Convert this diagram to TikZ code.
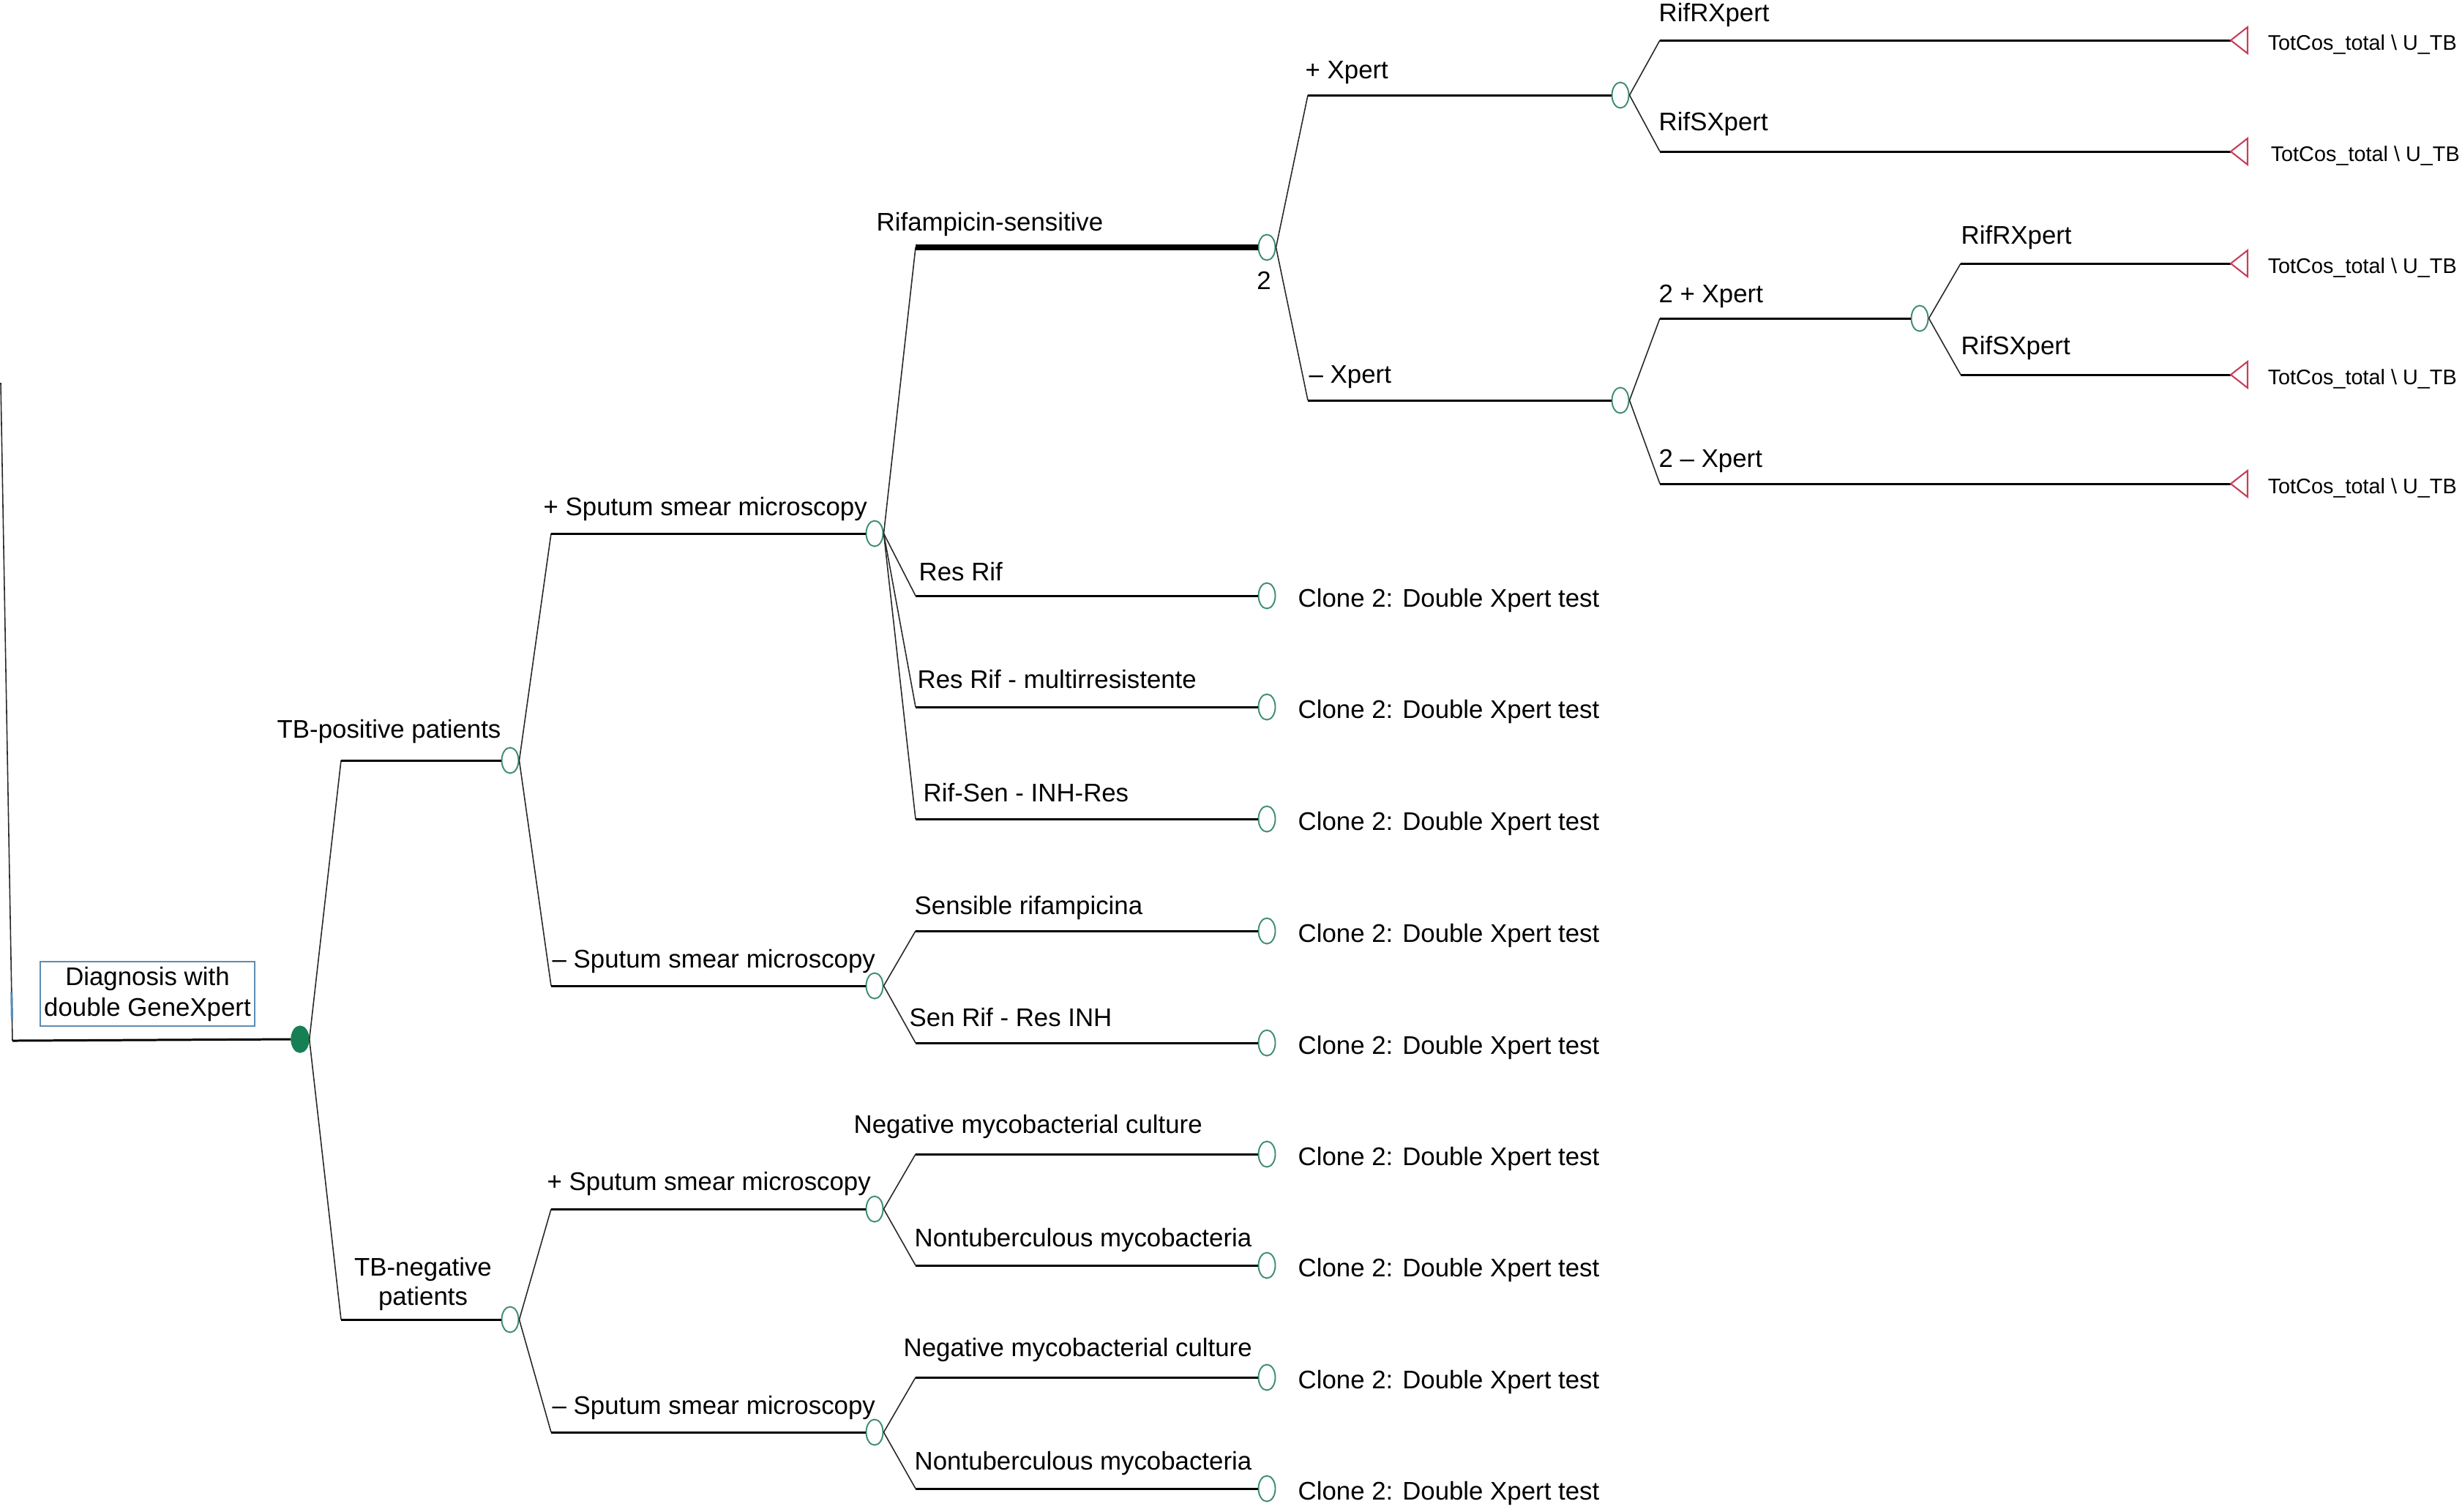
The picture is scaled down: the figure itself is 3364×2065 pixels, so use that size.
\documentclass[tikz,border=0pt]{standalone}
\usepackage{fontspec}
\setmainfont{Liberation Sans}
\usetikzlibrary{shapes.geometric}
\definecolor{chancecol}{RGB}{62,140,118}
\definecolor{rootcol}{RGB}{22,128,84}
\definecolor{termcol}{RGB}{196,64,88}
\definecolor{boxcol}{RGB}{92,140,180}
\definecolor{slantcol}{RGB}{40,40,40}
\begin{document}
\begin{tikzpicture}[x=0.01cm, y=-0.01cm,
  chance/.style={ellipse, draw=chancecol, line width=0.55pt, fill=white, minimum width=0.23cm, minimum height=0.35cm, inner sep=0pt},
  rootdot/.style={ellipse, fill=rootcol, draw=rootcol, minimum width=0.24cm, minimum height=0.36cm, inner sep=0pt},
  hline/.style={line width=0.85pt, black},
  thickline/.style={line width=2.3pt, black},
  sline/.style={line width=0.45pt, slantcol},
  lbl/.style={anchor=base west, inner sep=0pt, font=\fontsize{9.9pt}{12pt}\selectfont},
  totlbl/.style={anchor=base west, inner sep=0pt, font=\fontsize{8.2pt}{10pt}\selectfont},
  termtri/.pic={\draw[termcol, line width=0.6pt, line join=miter] (0,0) -- (23,-18) -- (23,18) -- cycle;}
]
\useasboundingbox (0,0) rectangle (3364,2065);

% ---------- nodes ----------
\node[rootdot] (root) at (410,1420) {};
\node[chance] (tbp) at (697,1039) {};
\node[chance] (tbn) at (697,1803) {};
\node[chance] (ps1) at (1195,729) {};
\node[chance] (ns1) at (1195,1347) {};
\node[chance] (ps2) at (1195,1652) {};
\node[chance] (ns2) at (1195,1957) {};
\node[chance] (rs) at (1731,338) {};
\node[chance] (rr) at (1731,814) {};
\node[chance] (rm) at (1731,966) {};
\node[chance] (ri) at (1731,1119) {};
\node[chance] (sr) at (1731,1272) {};
\node[chance] (si) at (1731,1425) {};
\node[chance] (nc1) at (1731,1577) {};
\node[chance] (nt1) at (1731,1729) {};
\node[chance] (nc2) at (1731,1882) {};
\node[chance] (nt2) at (1731,2034) {};
\node[chance] (px) at (2214,130) {};
\node[chance] (mx) at (2214,547) {};
\node[chance] (p2) at (2623,435) {};
\coordinate (ta) at (3048,55);
\coordinate (tb) at (3048,207);
\coordinate (tc) at (3048,360);
\coordinate (td) at (3048,512);
\coordinate (te) at (3048,661);

% elbows
\coordinate (rin) at (1,523);
\coordinate (rel) at (17,1422);
\coordinate (k1a) at (466,1039);
\coordinate (k1b) at (466,1803);
\coordinate (k2a) at (753,729);
\coordinate (k2b) at (753,1347);
\coordinate (k2c) at (753,1652);
\coordinate (k2d) at (753,1957);
\coordinate (k3a) at (1251,338);
\coordinate (k3b) at (1251,814);
\coordinate (k3c) at (1251,966);
\coordinate (k3d) at (1251,1119);
\coordinate (k3e) at (1251,1272);
\coordinate (k3f) at (1251,1425);
\coordinate (k3g) at (1251,1577);
\coordinate (k3h) at (1251,1729);
\coordinate (k3i) at (1251,1882);
\coordinate (k3j) at (1251,2034);
\coordinate (k4a) at (1787,130);
\coordinate (k4b) at (1787,547);
\coordinate (k5a) at (2268,55);
\coordinate (k5b) at (2268,207);
\coordinate (k5c) at (2268,435);
\coordinate (k5d) at (2268,661);
\coordinate (k6a) at (2679,360);
\coordinate (k6b) at (2679,512);

% ---------- connectors ----------
\draw[sline] (rin) -- (rel);
\draw[hline] (rel) -- (root.west);
\draw[boxcol, line width=0.9pt] (15.8,1356) -- (16.4,1392);

\draw[sline] (root.east) -- (k1a); \draw[hline] (k1a) -- (tbp.west);
\draw[sline] (root.east) -- (k1b); \draw[hline] (k1b) -- (tbn.west);

\draw[sline] (tbp.east) -- (k2a); \draw[hline] (k2a) -- (ps1.west);
\draw[sline] (tbp.east) -- (k2b); \draw[hline] (k2b) -- (ns1.west);
\draw[sline] (tbn.east) -- (k2c); \draw[hline] (k2c) -- (ps2.west);
\draw[sline] (tbn.east) -- (k2d); \draw[hline] (k2d) -- (ns2.west);

\draw[sline] (ps1.east) -- (k3a); \draw[thickline] (k3a) -- (rs.west);
\draw[sline] (ps1.east) -- (k3b); \draw[hline] (k3b) -- (rr.west);
\draw[sline] (ps1.east) -- (k3c); \draw[hline] (k3c) -- (rm.west);
\draw[sline] (ps1.east) -- (k3d); \draw[hline] (k3d) -- (ri.west);
\draw[sline] (ns1.east) -- (k3e); \draw[hline] (k3e) -- (sr.west);
\draw[sline] (ns1.east) -- (k3f); \draw[hline] (k3f) -- (si.west);
\draw[sline] (ps2.east) -- (k3g); \draw[hline] (k3g) -- (nc1.west);
\draw[sline] (ps2.east) -- (k3h); \draw[hline] (k3h) -- (nt1.west);
\draw[sline] (ns2.east) -- (k3i); \draw[hline] (k3i) -- (nc2.west);
\draw[sline] (ns2.east) -- (k3j); \draw[hline] (k3j) -- (nt2.west);

\draw[sline] (rs.east) -- (k4a); \draw[hline] (k4a) -- (px.west);
\draw[sline] (rs.east) -- (k4b); \draw[hline] (k4b) -- (mx.west);

\draw[sline] (px.east) -- (k5a); \draw[hline] (k5a) -- (ta);
\draw[sline] (px.east) -- (k5b); \draw[hline] (k5b) -- (tb);
\draw[sline] (mx.east) -- (k5c); \draw[hline] (k5c) -- (p2.west);
\draw[sline] (mx.east) -- (k5d); \draw[hline] (k5d) -- (te);
\draw[sline] (p2.east) -- (k6a); \draw[hline] (k6a) -- (tc);
\draw[sline] (p2.east) -- (k6b); \draw[hline] (k6b) -- (td);

\pic at (ta) {termtri};
\pic at (tb) {termtri};
\pic at (tc) {termtri};
\pic at (td) {termtri};
\pic at (te) {termtri};

% ---------- decision box ----------
\node[draw=boxcol, line width=0.75pt, minimum width=2.93cm, minimum height=0.88cm, inner sep=0pt, align=center,
      font=\fontsize{9.9pt}{11.95pt}\selectfont] (dbox) at (201.5,1358) {Diagnosis with\\double GeneXpert};

% ---------- branch labels ----------
\node[lbl] (l1a) at (378,1008) {TB-positive patients};
\node[anchor=center, inner sep=0pt, align=center, font=\fontsize{9.9pt}{11.4pt}\selectfont] (l1b) at (578,1754) {TB-negative\\patients};

\node[lbl] (l2a) at (742,704) {+ Sputum smear microscopy};
\node[lbl] (l2b) at (754,1322) {– Sputum smear microscopy};
\node[lbl] (l2c) at (747,1626) {+ Sputum smear microscopy};
\node[lbl] (l2d) at (754,1932) {– Sputum smear microscopy};

\node[lbl] (l3a) at (1197,315) {Rifampicin-sensitive};
\node[lbl] (l3b) at (1255,793) {Res Rif};
\node[lbl] (l3c) at (1253,940) {Res Rif - multirresistente};
\node[lbl] (l3d) at (1261,1095) {Rif-Sen - INH-Res};
\node[lbl] (l3e) at (1249,1249) {Sensible rifampicina};
\node[lbl] (l3f) at (1242,1402) {Sen Rif - Res INH};
\node[lbl] (l3g) at (1166,1548) {Negative mycobacterial culture};
\node[lbl] (l3h) at (1249,1703) {Nontuberculous mycobacteria};
\node[lbl] (l3i) at (1234,1853) {Negative mycobacterial culture};
\node[lbl] (l3j) at (1249,2008) {Nontuberculous mycobacteria};

\node[anchor=base, inner sep=0pt, font=\fontsize{9.9pt}{12pt}\selectfont] (two) at (1727,395) {2};

\node[lbl] (l4a) at (1783,107) {+ Xpert};
\node[lbl] (l4b) at (1788,523) {– Xpert};
\node[lbl] (l5a) at (2266,29) {RifRXpert};
\node[lbl] (l5b) at (2266,178) {RifSXpert};
\node[lbl] (l5c) at (2266,413) {2 + Xpert};
\node[lbl] (l5d) at (2266,638) {2 – Xpert};
\node[lbl] (l6a) at (2679,333) {RifRXpert};
\node[lbl] (l6b) at (2679,484) {RifSXpert};

% ---------- clone labels ----------
\node[lbl] (c1) at (1773,829) {Clone 2: Double Xpert test};
\node[lbl] (c2) at (1773,981) {Clone 2: Double Xpert test};
\node[lbl] (c3) at (1773,1134) {Clone 2: Double Xpert test};
\node[lbl] (c4) at (1773,1287) {Clone 2: Double Xpert test};
\node[lbl] (c5) at (1773,1440) {Clone 2: Double Xpert test};
\node[lbl] (c6) at (1773,1592) {Clone 2: Double Xpert test};
\node[lbl] (c7) at (1773,1744) {Clone 2: Double Xpert test};
\node[lbl] (c8) at (1773,1897) {Clone 2: Double Xpert test};
\node[lbl] (c9) at (1773,2049) {Clone 2: Double Xpert test};

% ---------- terminal values ----------
\node[totlbl] (v1) at (3098,68) {TotCos\_total \textbackslash{} U\_TB};
\node[totlbl] (v2) at (3102,220) {TotCos\_total \textbackslash{} U\_TB};
\node[totlbl] (v3) at (3098,373) {TotCos\_total \textbackslash{} U\_TB};
\node[totlbl] (v4) at (3098,525) {TotCos\_total \textbackslash{} U\_TB};
\node[totlbl] (v5) at (3098,674) {TotCos\_total \textbackslash{} U\_TB};
\end{tikzpicture}
\end{document}
